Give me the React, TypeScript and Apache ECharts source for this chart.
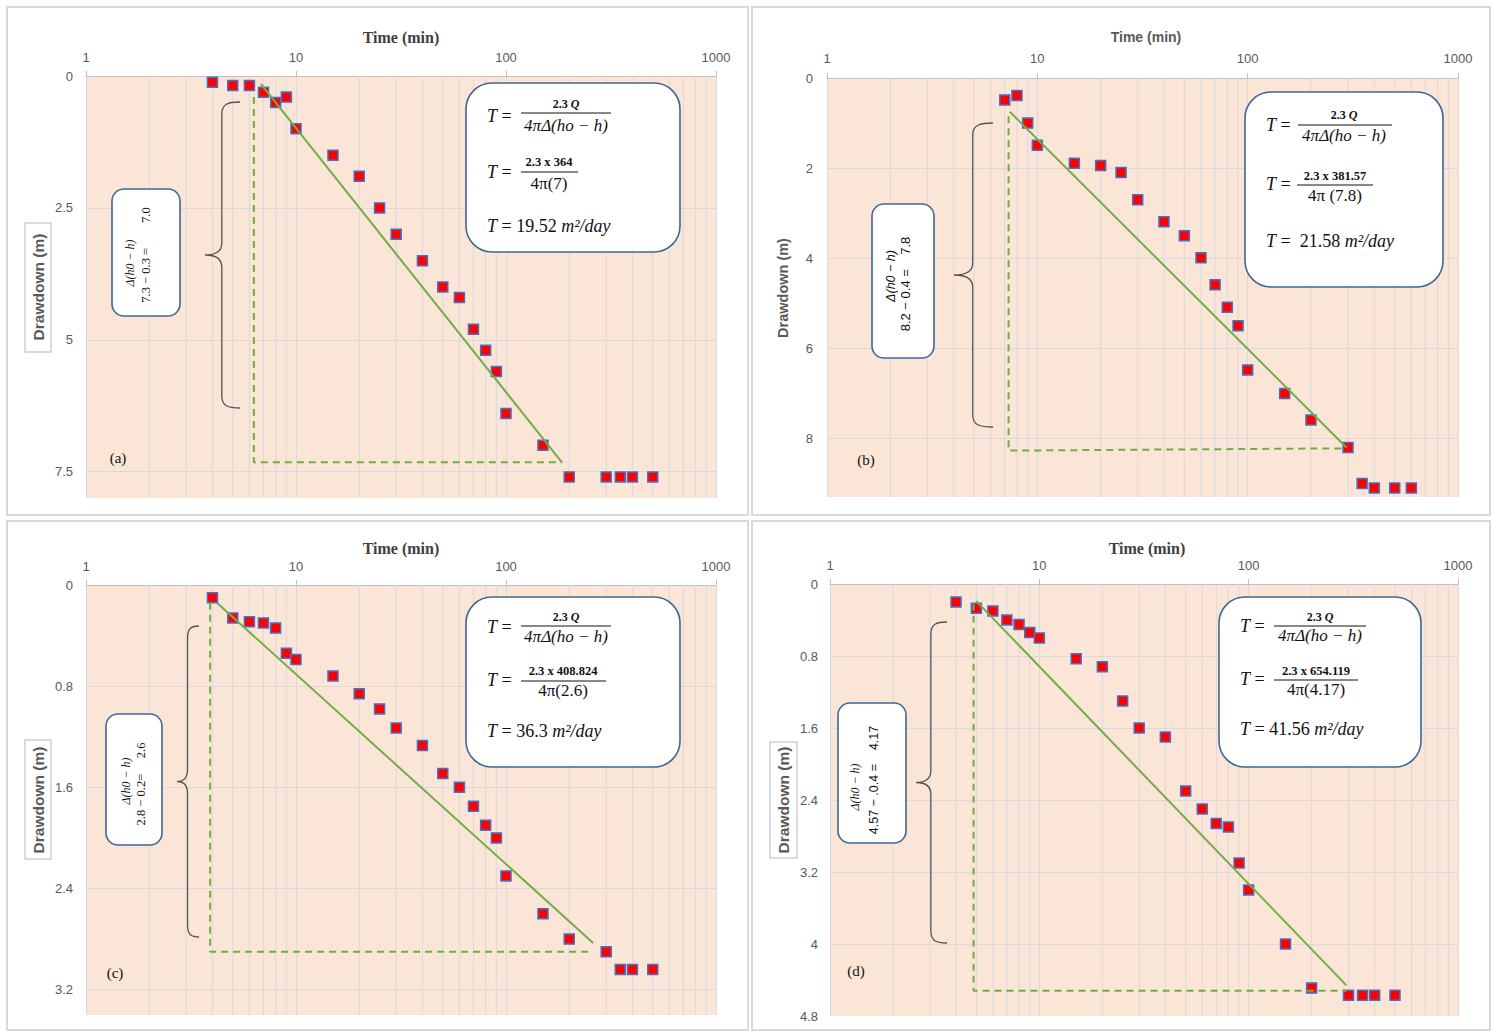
import React, { useEffect, useRef } from "react";
import * as echarts from "echarts";

// ---------- data ----------
const minorTimes = [2, 3, 4, 5, 6, 7, 8, 9, 20, 30, 40, 50, 60, 70, 80, 90, 200, 300, 400, 500, 600, 700, 800, 900];

const timesA = [4, 5, 6, 7, 8, 9, 10, 15, 20, 25, 30, 40, 50, 60, 70, 80, 90, 100, 150, 200, 300, 350, 400, 500];
const drawdownA = [0.12, 0.18, 0.18, 0.31, 0.5, 0.4, 1.0, 1.5, 1.9, 2.5, 3.0, 3.5, 4.0, 4.2, 4.8, 5.2, 5.6, 6.4, 7.0, 7.6, 7.6, 7.6, 7.6, 7.6];
const fitA = [[6.8, 0.15], [185, 7.33]];
const dashA = [[6.3, 0.4], [6.3, 7.32], [185, 7.32]];

const timesB = [7, 8, 9, 10, 15, 20, 25, 30, 40, 50, 60, 70, 80, 90, 100, 150, 200, 300, 350, 400, 500, 600];
const drawdownB = [0.49, 0.39, 1.0, 1.49, 1.89, 1.94, 2.1, 2.7, 3.19, 3.5, 3.99, 4.59, 5.09, 5.5, 6.48, 7.0, 7.59, 8.2, 9.0, 9.1, 9.1, 9.1];
const fitB = [[7.4, 0.75], [295, 8.2]];
const dashB = [[7.3, 0.85], [7.3, 8.27], [295, 8.22]];

const timesC = [4, 5, 6, 7, 8, 9, 10, 15, 20, 25, 30, 40, 50, 60, 70, 80, 90, 100, 150, 200, 300, 350, 400, 500];
const drawdownC = [0.1, 0.26, 0.29, 0.3, 0.34, 0.54, 0.59, 0.72, 0.86, 0.98, 1.13, 1.27, 1.49, 1.6, 1.75, 1.9, 2.0, 2.3, 2.6, 2.8, 2.9, 3.04, 3.04, 3.04];
const fitC = [[4.2, 0.14], [260, 2.83]];
const dashC = [[3.9, 0.14], [3.9, 2.9], [260, 2.9]];

const timesD = [4, 5, 6, 7, 8, 9, 10, 15, 20, 25, 30, 40, 50, 60, 70, 80, 90, 100, 150, 200, 300, 350, 400, 500];
const drawdownD = [0.2, 0.27, 0.3, 0.4, 0.45, 0.54, 0.6, 0.83, 0.92, 1.3, 1.6, 1.7, 2.3, 2.5, 2.66, 2.7, 3.1, 3.4, 4.0, 4.49, 4.57, 4.57, 4.57, 4.57];
const fitD = [[5.0, 0.19], [293, 4.46]];
const dashD = [[4.85, 0.22], [4.85, 4.52], [293, 4.52]];

const yMaxes = [8, 9.3, 3.4, 4.8];
const yIntervals = [2.5, 2, 0.8, 0.8];

// ---------- styles ----------
const serif = "'Liberation Serif', 'Times New Roman', serif";
const sans = "'Liberation Sans', Arial, sans-serif";
const gridColor = "#D7DAE0";
const peach = "#FBE5D6";
const green = "#70AD47";
const boxBlue = "#3F6796";

// brace geometry (annotation), [x1, x2, y1, y2]
const braceBoxes = [
  [205, 240, 102, 408],
  [954, 993, 123, 427],
  [177, 199, 626, 937],
  [916, 947, 622, 943],
];

function bracePathFor(w: number, h: number) {
  const sx = 0.48 * w;
  const c = 12;
  const m = h / 2;
  return (
    `M${w} 0 C${0.66 * w} 0 ${sx} 2 ${sx} ${c} ` +
    `L${sx} ${m - c} C${sx} ${m - 3} ${0.3 * w} ${m} 0 ${m} ` +
    `C${0.3 * w} ${m} ${sx} ${m + 3} ${sx} ${m + c} ` +
    `L${sx} ${h - c} C${sx} ${h - 2} ${0.66 * w} ${h} ${w} ${h}`
  );
}

braceBoxes.forEach((b, i) => {
  echarts.graphic.registerShape("brace" + i, echarts.graphic.extendPath(bracePathFor(b[1] - b[0], b[3] - b[2]), {}) as any);
});

const panels = [
  { grid: { left: 86, top: 76, width: 630, height: 422 }, times: timesA, s: drawdownA, fit: fitA, dash: dashA, showMax: false, xMargin: 12, yMargin: 13 },
  { grid: { left: 827, top: 78, width: 631, height: 419 }, times: timesB, s: drawdownB, fit: fitB, dash: dashB, showMax: false, xMargin: 13, yMargin: 14 },
  { grid: { left: 86, top: 585, width: 630, height: 430 }, times: timesC, s: drawdownC, fit: fitC, dash: dashC, showMax: false, xMargin: 12, yMargin: 13 },
  { grid: { left: 830, top: 584, width: 628, height: 432 }, times: timesD, s: drawdownD, fit: fitD, dash: dashD, showMax: true, xMargin: 12, yMargin: 12 },
];

function text(x: number, y: number, t: string, o: any = {}) {
  return {
    type: "text",
    x,
    y,
    rotation: o.rotation || 0,
    z: 100,
    silent: true,
    style: {
      text: t,
      fontFamily: o.fontFamily || serif,
      fontSize: o.fontSize || 14,
      fontStyle: o.fontStyle || "normal",
      fontWeight: o.fontWeight || "normal",
      fill: o.fill || "#111111",
      align: o.align || "center",
      verticalAlign: "middle",
      rich: o.rich,
    },
  };
}

const italicRich = (size: number) => ({
  i: { fontStyle: "italic", fontFamily: serif, fontSize: size, fill: "#111111" },
  n: { fontStyle: "normal", fontFamily: serif, fontSize: size, fill: "#111111" },
});

function hline(x1: number, x2: number, y: number, color = "#111111", w = 1) {
  return { type: "line", z: 100, silent: true, shape: { x1, y1: y, x2, y2: y }, style: { stroke: color, lineWidth: w } };
}

function rect(x: number, y: number, w: number, h: number, r: number, stroke: string, fill: string, lw = 1.5) {
  return { type: "rect", z: 99, silent: true, shape: { x, y, width: w, height: h, r }, style: { stroke, fill, lineWidth: lw } };
}

type FB = {
  box: number[];
  eq1: number[];
  f1: { cx: number; ny: number; by: number; bx1: number; bx2: number; dy: number };
  eq2: number[];
  f2: { cx: number; ny: number; by: number; bx1: number; bx2: number; dy: number; num: string; den: string };
  l3: number[];
  res: string;
};

function formulaBox(f: FB) {
  const els: any[] = [];
  els.push(rect(f.box[0], f.box[1], f.box[2], f.box[3], 26, boxBlue, "#ffffff", 1.6));
  els.push(text(f.eq1[0], f.eq1[1], "{i|T} =", { align: "left", fontSize: 18, rich: italicRich(18) }));
  els.push(text(f.f1.cx, f.f1.ny, "{b|2.3 }{bi|Q}", {
    fontSize: 12,
    rich: {
      b: { fontFamily: serif, fontSize: 12, fontWeight: "bold", fill: "#111111" },
      bi: { fontFamily: serif, fontSize: 12, fontWeight: "bold", fontStyle: "italic", fill: "#111111" },
    },
  }));
  els.push(hline(f.f1.bx1, f.f1.bx2, f.f1.by));
  els.push(text(f.f1.cx, f.f1.dy, "4πΔ(ho − h)", { fontSize: 17, fontStyle: "italic" }));
  els.push(text(f.eq2[0], f.eq2[1], "{i|T} =", { align: "left", fontSize: 18, rich: italicRich(18) }));
  els.push(text(f.f2.cx, f.f2.ny, f.f2.num, { fontSize: 12.5, fontWeight: "bold" }));
  els.push(hline(f.f2.bx1, f.f2.bx2, f.f2.by));
  els.push(text(f.f2.cx, f.f2.dy, f.f2.den, { fontSize: 17 }));
  els.push(text(f.l3[0], f.l3[1], "{i|T}{n| = " + f.res + " }{i|m²/day}", { align: "left", fontSize: 18, rich: italicRich(18) }));
  return els;
}

const formulaBoxes: FB[] = [
  {
    box: [466, 83, 214, 169],
    eq1: [487, 116],
    f1: { cx: 566, ny: 104, by: 113, bx1: 521, bx2: 611, dy: 125 },
    eq2: [487, 172],
    f2: { cx: 549, ny: 162, by: 172, bx1: 521, bx2: 578, dy: 183, num: "2.3 x 364", den: "4π(7)" },
    l3: [487, 226],
    res: "19.52",
  },
  {
    box: [1245, 92, 198, 195],
    eq1: [1266, 125],
    f1: { cx: 1344, ny: 115, by: 125, bx1: 1298, bx2: 1392, dy: 135 },
    eq2: [1266, 184],
    f2: { cx: 1335, ny: 176, by: 185, bx1: 1297, bx2: 1373, dy: 195, num: "2.3 x 381.57", den: "4π (7.8)" },
    l3: [1266, 241],
    res: " 21.58",
  },
  {
    box: [466, 597, 214, 170],
    eq1: [487, 627],
    f1: { cx: 566, ny: 617, by: 626, bx1: 521, bx2: 611, dy: 636 },
    eq2: [487, 680],
    f2: { cx: 563, ny: 671, by: 681, bx1: 521, bx2: 606, dy: 690, num: "2.3 x 408.824", den: "4π(2.6)" },
    l3: [487, 731],
    res: "36.3",
  },
  {
    box: [1219, 597, 202, 170],
    eq1: [1240, 626],
    f1: { cx: 1320, ny: 617, by: 626, bx1: 1274, bx2: 1366, dy: 635 },
    eq2: [1240, 679],
    f2: { cx: 1316, ny: 671, by: 680, bx1: 1274, bx2: 1358, dy: 689, num: "2.3 x 654.119", den: "4π(4.17)" },
    l3: [1240, 729],
    res: "41.56",
  },
];

const R = Math.PI / 2;

function buildGraphic() {
  const els: any[] = [];
  // panel frames
  els.push(rect(7, 7, 741, 508, 0, "#D9D9D9", "none", 2));
  els.push(rect(752, 7, 738, 508, 0, "#D9D9D9", "none", 2));
  els.push(rect(7, 521, 741, 509, 0, "#D9D9D9", "none", 2));
  els.push(rect(752, 521, 738, 509, 0, "#D9D9D9", "none", 2));

  // x titles
  els.push(text(401, 37, "Time (min)", { fontFamily: serif, fontSize: 16, fontWeight: "bold", fill: "#404040" }));
  els.push(text(1146, 37, "Time (min)", { fontFamily: sans, fontSize: 14, fontWeight: "bold", fill: "#595959" }));
  els.push(text(401, 548, "Time (min)", { fontFamily: serif, fontSize: 16, fontWeight: "bold", fill: "#404040" }));
  els.push(text(1147, 548, "Time (min)", { fontFamily: serif, fontSize: 16, fontWeight: "bold", fill: "#404040" }));

  // y titles
  els.push(rect(25, 223, 26, 129, 0, "#D0D0D0", "none", 1.5));
  els.push(text(38.5, 287, "Drawdown (m)", { fontFamily: sans, fontSize: 15.5, fontWeight: "bold", fill: "#595959", rotation: R }));
  els.push(text(783, 288, "Drawdown (m)", { fontFamily: sans, fontSize: 14.5, fontWeight: "bold", fill: "#595959", rotation: R }));
  els.push(rect(25, 740, 26, 119, 0, "#D0D0D0", "none", 1.5));
  els.push(text(38.5, 800, "Drawdown (m)", { fontFamily: sans, fontSize: 15.5, fontWeight: "bold", fill: "#595959", rotation: R }));
  els.push(rect(770, 742, 27, 116, 0, "#D0D0D0", "none", 1.5));
  els.push(text(783.5, 800, "Drawdown (m)", { fontFamily: sans, fontSize: 15.5, fontWeight: "bold", fill: "#595959", rotation: R }));

  // panel letters
  els.push(text(118, 458, "(a)", { fontSize: 15 }));
  els.push(text(866, 460, "(b)", { fontSize: 15 }));
  els.push(text(115, 973, "(c)", { fontSize: 15 }));
  els.push(text(856, 971, "(d)", { fontSize: 15 }));

  // braces
  braceBoxes.forEach((b, i) => {
    els.push({
      type: "brace" + i,
      x: b[0],
      y: b[2],
      z: 98,
      silent: true,
      style: { fill: "none", stroke: "#555555", lineWidth: 1.3 },
    });
  });

  // side boxes
  els.push(rect(112, 189, 68, 127, 12, boxBlue, "#ffffff", 1.6));
  els.push(text(130, 263, "Δ(h0 − h)", { fontSize: 12, fontStyle: "italic", rotation: R }));
  els.push(text(146, 255, "7.3 − 0.3 =        7.0", { fontSize: 12.5, rotation: R }));

  els.push(rect(872, 204, 62, 154, 12, boxBlue, "#ffffff", 1.6));
  els.push(text(891, 276, "Δ(h0 − h)", { fontFamily: sans, fontSize: 12.5, fontStyle: "italic", rotation: R }));
  els.push(text(905, 284, "8.2 − 0.4 =    7.8", { fontFamily: sans, fontSize: 13, rotation: R }));

  els.push(rect(106, 714, 56, 131, 12, boxBlue, "#ffffff", 1.6));
  els.push(text(126, 781, "Δ(h0 − h)", { fontSize: 12, fontStyle: "italic", rotation: R }));
  els.push(text(141, 784, "2.8 − 0.2=     2.6", { fontSize: 12.5, rotation: R }));

  els.push(rect(838, 703, 68, 140, 12, boxBlue, "#ffffff", 1.6));
  els.push(text(855, 787, "Δ(h0 − h)", { fontSize: 12, fontStyle: "italic", rotation: R }));
  els.push(text(874, 780, "4.57 − .0.4 =    4.17", { fontFamily: sans, fontSize: 12.5, rotation: R }));

  formulaBoxes.forEach((f) => els.push(...formulaBox(f)));
  return els;
}

function buildOption() {
  const grid = panels.map((p) => ({ ...p.grid, show: true, backgroundColor: peach, borderWidth: 0, containLabel: false }));
  const xAxis = panels.map((p, i) => ({
    type: "log",
    logBase: 10,
    min: 1,
    max: 1000,
    gridIndex: i,
    position: "top",
    axisLine: { show: true, lineStyle: { color: "#BFBFBF", width: 1 } },
    axisTick: { show: true, length: 5, lineStyle: { color: "#BFBFBF" } },
    axisLabel: {
      margin: p.xMargin,
      fontSize: 13,
      color: "#595959",
      fontFamily: sans,
      formatter: (v: number) => String(Math.round(v)),
    },
    splitLine: { show: true, lineStyle: { color: gridColor, width: 1 } },
    minorTick: { show: false },
    minorSplitLine: { show: false },
  }));
  const yAxis = panels.map((p, i) => ({
    type: "value",
    gridIndex: i,
    inverse: true,
    min: 0,
    max: yMaxes[i],
    interval: yIntervals[i],
    axisLine: { show: false },
    axisTick: { show: false },
    axisLabel: { margin: p.yMargin, fontSize: 13, color: "#595959", fontFamily: sans, showMaxLabel: p.showMax },
    splitLine: { show: true, showMaxLine: false, lineStyle: { color: gridColor, width: 1 } },
  }));
  const series: any[] = [];
  panels.forEach((p, i) => {
    series.push({
      type: "custom",
      xAxisIndex: i,
      yAxisIndex: i,
      z: 1,
      silent: true,
      data: minorTimes.map((t) => [t, 0]),
      renderItem: (params: any, api: any) => {
        const x = api.coord([api.value(0), 0])[0];
        const cs = params.coordSys;
        return {
          type: "line",
          shape: { x1: x, y1: cs.y, x2: x, y2: cs.y + cs.height },
          style: { stroke: gridColor, lineWidth: 1 },
        };
      },
    });
    series.push({
      type: "scatter",
      xAxisIndex: i,
      yAxisIndex: i,
      z: 2,
      symbol: "rect",
      symbolSize: 10,
      data: p.times.map((t, j) => [t, p.s[j]]),
      itemStyle: { color: "#FF0000", borderColor: "#4472C4", borderWidth: 1.5, opacity: 1 },
    });
    series.push({
      type: "line",
      xAxisIndex: i,
      yAxisIndex: i,
      z: 3,
      symbol: "none",
      silent: true,
      data: p.dash,
      lineStyle: { color: green, width: 2, type: [7, 5] },
    });
    series.push({
      type: "line",
      xAxisIndex: i,
      yAxisIndex: i,
      z: 4,
      symbol: "none",
      silent: true,
      data: p.fit,
      lineStyle: { color: green, width: 2 },
    });
  });
  return {
    animation: false,
    backgroundColor: "#ffffff",
    textStyle: { fontFamily: sans },
    grid,
    xAxis,
    yAxis,
    series,
    graphic: { elements: buildGraphic() },
  };
}

export default function App() {
  const ref = useRef<HTMLDivElement>(null);
  useEffect(() => {
    document.body.style.margin = "0";
    if (!ref.current) return;
    const chart = echarts.init(ref.current, undefined, { renderer: "svg" });
    chart.setOption(buildOption() as any);
    return () => chart.dispose();
  }, []);
  return <div ref={ref} style={{ width: 1498, height: 1032 }} />;
}
